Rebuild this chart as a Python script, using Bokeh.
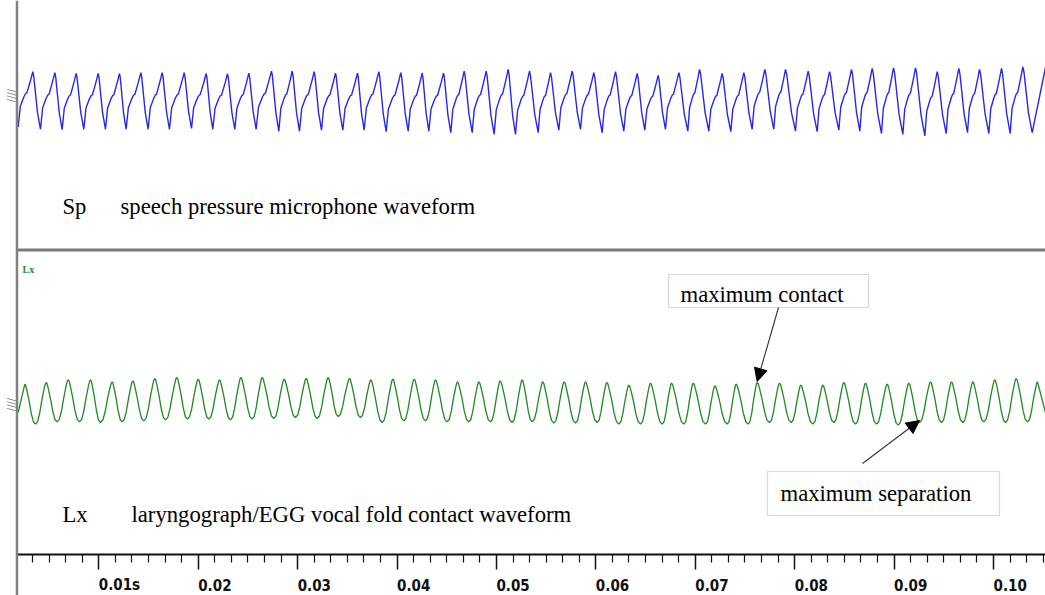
import math
from bokeh.plotting import figure
from bokeh.models import (Range1d, FixedTicker, LinearAxis, Span, Label, Arrow,
                          NormalHead, BoxAnnotation, ColumnDataSource, Grid)
from bokeh.core.properties import value
from bokeh.embed import file_html
from bokeh.resources import INLINE

# ---------------- data (time in ms, amplitude in relative units) ----------------
# Sp: speech pressure - troughs (first one is the left edge) and peaks, alternating T,P,T,P,...,T
sp_trough_ms = [1.888, 4.134, 6.314, 8.493, 10.673, 12.752, 14.965, 17.111, 19.324, 21.470, 23.683, 25.829,
                28.109, 30.188, 32.401, 34.547, 36.694, 38.907, 41.120, 43.198, 45.411, 47.558, 49.771, 51.916,
                54.197, 56.275, 58.455, 60.635, 62.814, 64.927, 67.006, 69.252, 71.364, 73.577, 75.724, 77.903,
                80.083, 82.263, 84.442, 86.554, 88.734, 90.880, 93.093, 95.240, 97.385, 99.532, 101.678, 103.891]
sp_trough_amp = [-0.88, -0.96, -0.97, -0.96, -0.96, -0.96, -0.96, -0.96, -0.93, -0.96, -0.96, -0.96,
                 -1.02, -1.02, -0.99, -0.99, -0.99, -1.04, -1.02, -1.02, -1.07, -1.07, -1.13, -1.13,
                 -1.07, -0.99, -0.96, -1.07, -1.02, -0.99, -0.96, -1.02, -1.02, -1.04, -0.96, -0.96,
                 -1.02, -1.04, -0.99, -1.02, -1.10, -1.13, -1.18, -1.10, -1.07, -1.10, -1.10, -1.07]
sp_peak_ms = [3.363, 5.576, 7.723, 9.936, 12.081, 14.227, 16.374, 18.587, 20.800, 22.946, 25.091, 27.372,
              29.451, 31.664, 33.810, 36.023, 38.168, 40.381, 42.528, 44.674, 46.753, 48.966, 51.179, 53.325,
              55.437, 57.617, 59.796, 61.976, 64.156, 66.268, 68.346, 70.426, 72.706, 74.885, 76.997, 79.077,
              81.357, 83.503, 85.716, 87.796, 89.941, 92.154, 94.334, 96.513, 98.592, 100.806, 102.951]
sp_peak_amp = [0.96, 0.93, 0.90, 0.90, 0.90, 0.93, 0.93, 0.93, 0.90, 0.89, 0.91, 0.98,
               0.98, 0.96, 0.91, 0.91, 0.96, 0.93, 0.91, 0.91, 0.98, 0.98, 1.04, 0.98,
               0.93, 0.98, 0.93, 0.96, 0.90, 0.84, 0.93, 1.04, 0.90, 0.93, 1.04, 1.04,
               0.98, 0.96, 1.04, 1.07, 1.09, 1.09, 0.96, 1.07, 1.04, 1.07, 1.12]
sp_end_ms, sp_end_amp = 105.23, 1.10
# one-cycle shape of the Sp trace (fraction of segment time -> fraction of trough-to-peak height)
sp_rise_phase = [0.0, 0.15, 0.40, 0.50, 0.60, 0.85, 1.0]
sp_rise_level = [0.0, 0.38, 0.55, 0.60, 0.62, 0.85, 1.0]
sp_fall_phase = [0.0, 0.12, 0.60, 1.0]
sp_fall_level = [1.0, 0.92, 0.30, 0.0]

# Lx: laryngograph / EGG - edge, peaks and troughs alternating P,T,P,...,P, edge
egg_start_ms, egg_start_amp = 1.888, -0.50
egg_peak_ms = [2.558, 4.705, 6.918, 9.164, 11.344, 13.422, 15.635, 17.849, 19.995, 22.141, 24.287, 26.433,
               28.646, 30.859, 33.072, 35.218, 37.364, 39.577, 41.724, 43.869, 46.082, 48.228, 50.374, 52.587,
               54.666, 56.812, 58.958, 61.104, 63.317, 65.497, 67.609, 69.789, 71.968, 74.114, 76.227, 78.473,
               80.619, 82.832, 84.944, 87.124, 89.304, 91.483, 93.663, 95.775, 97.921, 100.135, 102.281, 104.427]
egg_peak_amp = [0.92, 1.00, 1.13, 1.13, 1.03, 1.08, 1.20, 1.25, 1.17, 1.13, 1.25, 1.25,
                1.17, 1.20, 1.25, 1.20, 1.13, 1.17, 1.17, 1.13, 1.03, 1.03, 1.08, 1.13,
                1.03, 1.03, 1.03, 1.00, 0.87, 0.97, 0.97, 0.97, 0.83, 0.92, 1.00, 0.97,
                0.87, 0.87, 1.00, 0.97, 0.92, 0.97, 1.03, 1.03, 1.03, 1.13, 1.20, 1.03]
egg_trough_ms = [3.631, 5.811, 8.058, 10.170, 12.350, 14.529, 16.709, 18.922, 21.068, 23.247, 25.427, 27.606,
                 29.786, 31.966, 34.078, 36.324, 38.504, 40.683, 42.863, 45.043, 47.222, 49.402, 51.582,
                 53.594, 55.773, 57.953, 60.132, 62.312, 64.492, 66.671, 68.850, 71.030, 73.210, 75.322,
                 77.468, 79.648, 81.827, 83.940, 86.119, 88.231, 90.411, 92.557, 94.770, 96.916, 99.028,
                 101.208, 103.421]
egg_trough_amp = [-1.08, -0.97, -0.97, -1.00, -0.97, -0.92, -0.87, -0.83, -0.83, -0.87, -0.83, -0.80,
                  -0.75, -0.80, -0.70, -0.75, -1.00, -0.92, -0.92, -0.97, -0.97, -0.97, -1.00,
                  -0.97, -1.03, -1.03, -1.00, -1.08, -1.08, -1.08, -1.08, -1.08, -1.08, -1.08,
                  -1.00, -1.00, -1.08, -1.00, -1.08, -1.08, -1.13, -1.00, -1.00, -1.00, -0.97,
                  -1.00, -0.97]
egg_end_ms, egg_end_amp = 105.23, -0.50
egg_rise_phase = [0.0, 0.2, 0.4, 0.6, 0.8, 0.92, 1.0]
egg_rise_level = [0.0, 0.06, 0.27, 0.58, 0.84, 0.97, 1.0]
egg_fall_phase = [0.0, 0.08, 0.2, 0.4, 0.6, 0.8, 1.0]
egg_fall_level = [1.0, 0.97, 0.84, 0.58, 0.27, 0.06, 0.0]

# time axis
tick_values = [0.01, 0.02, 0.03, 0.04, 0.05, 0.06, 0.07, 0.08, 0.09, 0.10]
tick_labels = ["0.01s", "0.02", "0.03", "0.04", "0.05", "0.06", "0.07", "0.08", "0.09", "0.10"]
minor_tick_step = 1.0 / 600.0

# annotation targets (index of the marked cycle)
contact_peak_index = 34
separation_trough_index = 41

# ---------------- layout constants (pixels) ----------------
W, H = 1045, 595
PX_PER_S = 9941.0
PX_OFF = 1.1


def sx(px):
    return (px + PX_OFF) / PX_PER_S


SP_MID, SP_SCALE = 100.0, 30.0
EGG_MID, EGG_SCALE = 402.0, 20.0
AXIS_Y = 553.5
TXT_SHIFT = 7  # Label baseline correction


def build(kinds, ts, vs, rise, fall):
    xs, ys = [ts[0]], [vs[0]]
    for i in range(len(ts) - 1):
        t0, t1, v0, v1 = ts[i], ts[i + 1], vs[i], vs[i + 1]
        if kinds[i] == "T" and kinds[i + 1] == "P":
            ph, lv = rise
            lo, hi = v0, v1
        elif kinds[i] == "P" and kinds[i + 1] == "T":
            ph, lv = fall
            lo, hi = v1, v0
        else:
            xs.append(t1)
            ys.append(v1)
            continue
        for f, l in zip(ph[1:], lv[1:]):
            xs.append(t0 + (t1 - t0) * f)
            ys.append(lo + (hi - lo) * l)
    return xs, ys


# Sp sequence
sp_kinds, sp_t, sp_v = [], [], []
for i in range(len(sp_peak_ms)):
    sp_kinds += ["T", "P"]
    sp_t += [sp_trough_ms[i], sp_peak_ms[i]]
    sp_v += [sp_trough_amp[i], sp_peak_amp[i]]
sp_kinds += ["T", "E"]
sp_t += [sp_trough_ms[-1], sp_end_ms]
sp_v += [sp_trough_amp[-1], sp_end_amp]
sp_x, sp_y = build(sp_kinds, sp_t, sp_v, (sp_rise_phase, sp_rise_level), (sp_fall_phase, sp_fall_level))

# EGG sequence
egg_kinds, egg_t, egg_v = ["E"], [egg_start_ms], [egg_start_amp]
for i in range(len(egg_trough_ms)):
    egg_kinds += ["P", "T"]
    egg_t += [egg_peak_ms[i], egg_trough_ms[i]]
    egg_v += [egg_peak_amp[i], egg_trough_amp[i]]
egg_kinds += ["P", "E"]
egg_t += [egg_peak_ms[-1], egg_end_ms]
egg_v += [egg_peak_amp[-1], egg_end_amp]
egg_x, egg_y = build(egg_kinds, egg_t, egg_v, (egg_rise_phase, egg_rise_level), (egg_fall_phase, egg_fall_level))

sp_src = ColumnDataSource(dict(t=[x / 1000.0 for x in sp_x], y=[SP_MID - SP_SCALE * v for v in sp_y]))
egg_src = ColumnDataSource(dict(t=[x / 1000.0 for x in egg_x], y=[EGG_MID - EGG_SCALE * v for v in egg_y]))

p = figure(width=W, height=H, output_backend="svg", toolbar_location=None,
           x_axis_location=None, y_axis_location=None,
           x_range=Range1d(sx(0), sx(W)), y_range=Range1d(H, 0),
           min_border=0, min_border_left=0, min_border_right=0, min_border_top=0, min_border_bottom=0)
p.title.visible = False
p.outline_line_color = None
p.background_fill_color = "white"
p.border_fill_color = "white"
p.grid.visible = False
for r in list(p.center):
    if isinstance(r, Grid):
        r.visible = False

# left vertical line and panel divider
p.add_layout(Span(location=sx(16.5), dimension="height", line_color="#808080", line_width=2.5))
p.segment(x0=[sx(17)], x1=[sx(W)], y0=[249.5], y1=[249.5], line_color="#7a7a7a", line_width=3)

# waveforms
p.line("t", "y", source=sp_src, line_color="#2626f2", line_width=1.4)
p.line("t", "y", source=egg_src, line_color="#1f8a1f", line_width=1.3)

# time axis drawn at the bottom of the traces
minor = []
k = 1
while k * minor_tick_step < sx(W):
    v = k * minor_tick_step
    if all(abs(v - t) > 1e-6 for t in tick_values) and v > sx(17):
        minor.append(v)
    k += 1
xaxis = LinearAxis(fixed_location=AXIS_Y, bounds=(sx(17), sx(W)),
                   ticker=FixedTicker(ticks=tick_values, minor_ticks=minor),
                   axis_line_color="#111111", axis_line_width=2,
                   major_tick_out=15, major_tick_in=0, minor_tick_out=8, minor_tick_in=0,
                   major_tick_line_color="#111111", minor_tick_line_color="#111111",
                   major_tick_line_width=1.5, minor_tick_line_width=1.2,
                   major_label_overrides={t: "" for t in tick_values},
                   major_label_text_font_size="1px")
p.add_layout(xaxis, "below")

tick_src = ColumnDataSource(dict(t=tick_values, y=[584] * len(tick_values), label=tick_labels))
p.text("t", "y", text="label", source=tick_src, text_font=value("DejaVu Sans Condensed"),
       text_font_size="15px", text_font_style="bold", text_align="left", text_baseline="middle",
       text_color="#111111")

SERIF = "Liberation Serif"
FS = "22.7px"
# panel captions
p.add_layout(Label(x=sx(62), y=213 - TXT_SHIFT, text="Sp", text_font=SERIF, text_font_size=FS,
                   text_color="black", text_baseline="alphabetic"))
p.add_layout(Label(x=sx(120), y=213 - TXT_SHIFT, text="speech pressure microphone waveform", text_font=SERIF,
                   text_font_size=FS, text_color="black", text_baseline="alphabetic"))
p.add_layout(Label(x=sx(62), y=521 - TXT_SHIFT, text="Lx", text_font=SERIF, text_font_size=FS,
                   text_color="black", text_baseline="alphabetic"))
p.add_layout(Label(x=sx(131), y=521 - TXT_SHIFT, text="laryngograph/EGG vocal fold contact waveform",
                   text_font=SERIF, text_font_size=FS, text_color="black", text_baseline="alphabetic"))
p.add_layout(Label(x=sx(22), y=272 - 3, text="Lx", text_font=SERIF, text_font_size="10px",
                   text_font_style="bold", text_color="#2a8a2a", text_baseline="alphabetic"))
# channel scale marks
for ymark in (95, 404):
    p.add_layout(Label(x=sx(11), y=ymark, text="////", text_font="DejaVu Sans", text_font_size="10px",
                       text_color="#7a7a7a", text_align="center", text_baseline="middle", angle=math.pi / 2))

# annotation boxes
p.add_layout(BoxAnnotation(left=sx(668), right=sx(868), top=274, bottom=307, fill_color="white",
                           fill_alpha=1, line_color="#808080", line_width=1.2))
p.add_layout(Label(x=sx(680), y=301 - TXT_SHIFT, text="maximum contact", text_font=SERIF, text_font_size=FS,
                   text_color="black", text_baseline="alphabetic"))
p.add_layout(BoxAnnotation(left=sx(767), right=sx(999), top=471, bottom=515, fill_color="white",
                           fill_alpha=1, line_color="#808080", line_width=1.2))
p.add_layout(Label(x=sx(780), y=500 - TXT_SHIFT, text="maximum separation", text_font=SERIF, text_font_size=FS,
                   text_color="black", text_baseline="alphabetic"))

# arrows pointing at the marked cycle
cp_t = egg_peak_ms[contact_peak_index] / 1000.0
cp_y = EGG_MID - EGG_SCALE * egg_peak_amp[contact_peak_index] - 1
p.add_layout(Arrow(end=NormalHead(size=13, fill_color="black", line_color="black"),
                   x_start=sx(778), y_start=307, x_end=cp_t, y_end=cp_y,
                   line_color="#333333", line_width=1.1))
st_t = egg_trough_ms[separation_trough_index] / 1000.0
st_y = EGG_MID - EGG_SCALE * egg_trough_amp[separation_trough_index] - 2
p.add_layout(Arrow(end=NormalHead(size=13, fill_color="black", line_color="black"),
                   x_start=sx(862), y_start=463, x_end=st_t, y_end=st_y,
                   line_color="#333333", line_width=1.1))

open("out.html", "w").write(file_html(p, INLINE))
